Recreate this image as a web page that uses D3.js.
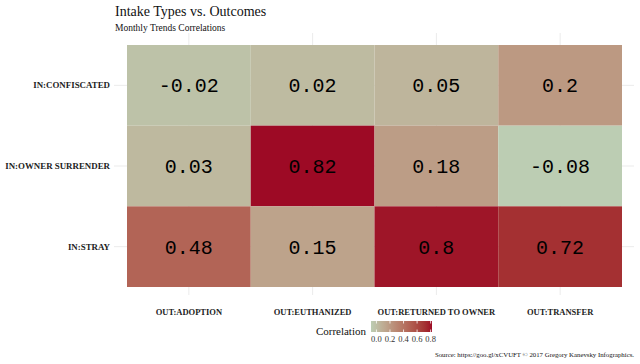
<!DOCTYPE html>
<html><head><meta charset="utf-8">
<script src="https://cdn.jsdelivr.net/npm/d3@7"></script>
<style>body{margin:0;background:#fff}svg{display:block}</style>
</head><body>
<svg id="c" width="640" height="364"></svg>
<script>
const outcomes = ["OUT:ADOPTION","OUT:EUTHANIZED","OUT:RETURNED TO OWNER","OUT:TRANSFER"];
const intakes = ["IN:CONFISCATED","IN:OWNER SURRENDER","IN:STRAY"];
const confiscated = [-0.02, 0.02, 0.05, 0.2];
const ownerSurrender = [0.03, 0.82, 0.18, -0.08];
const stray = [0.48, 0.15, 0.8, 0.72];
const legendTicks = [0, 0.2, 0.4, 0.6, 0.8];
const colorStops = ["#bccdb3", "#bebba1", "#9d0a25"];
const colorDomain = [-0.08, 0.02, 0.82];

const rows = [confiscated, ownerSurrender, stray];
const cells = [];
rows.forEach((r, i) => r.forEach((v, j) => cells.push({row: intakes[i], col: outcomes[j], v})));

const svg = d3.select("#c");
const x = d3.scaleBand().domain(outcomes).range([127, 622]);
const y = d3.scaleBand().domain(intakes).range([45, 287]);
const color = d3.scaleLinear().domain(colorDomain).range(colorStops).interpolate(d3.interpolateLab);

// grid lines
const grid = svg.append("g").attr("stroke", "#ebebeb").attr("stroke-width", 1);
outcomes.forEach(o => grid.append("line")
  .attr("x1", x(o) + x.bandwidth()/2).attr("x2", x(o) + x.bandwidth()/2)
  .attr("y1", 33).attr("y2", 295));
intakes.forEach(r => grid.append("line")
  .attr("y1", y(r) + y.bandwidth()/2).attr("y2", y(r) + y.bandwidth()/2)
  .attr("x1", 114).attr("x2", 634));

// tiles
svg.append("g").selectAll("rect").data(cells).join("rect")
  .attr("x", d => x(d.col)).attr("y", d => y(d.row))
  .attr("width", x.bandwidth()).attr("height", y.bandwidth())
  .attr("fill", d => color(d.v));

svg.append("g").selectAll("text").data(cells).join("text")
  .attr("x", d => x(d.col) + x.bandwidth()/2)
  .attr("y", d => y(d.row) + y.bandwidth()/2 + 7)
  .attr("text-anchor", "middle")
  .attr("font-family", "'Liberation Mono', 'Courier New', monospace")
  .attr("font-size", 20).attr("fill", "#000")
  .text(d => String(d.v));

// axes labels
const xAxis = svg.append("g").attr("transform", "translate(0,288)")
  .call(d3.axisBottom(x).tickSize(0).tickPadding(21));
xAxis.select(".domain").remove();
xAxis.selectAll("text").attr("font-family", "'Liberation Serif', 'Times New Roman', serif")
  .attr("font-weight", "bold").attr("font-size", 8.5).attr("fill", "#222");

const yAxis = svg.append("g").attr("transform", "translate(127,0)")
  .call(d3.axisLeft(y).tickSize(0).tickPadding(17));
yAxis.select(".domain").remove();
yAxis.selectAll("text").attr("font-family", "'Liberation Serif', 'Times New Roman', serif")
  .attr("font-weight", "bold").attr("font-size", 8.9).attr("fill", "#222");

// title
svg.append("text").attr("x", 115).attr("y", 16)
  .attr("font-family", "'Liberation Serif', 'Times New Roman', serif").attr("font-size", 14)
  .attr("fill", "#111").text("Intake Types vs. Outcomes");
svg.append("text").attr("x", 115).attr("y", 31)
  .attr("font-family", "'Liberation Serif', 'Times New Roman', serif").attr("font-size", 9.5)
  .attr("fill", "#111").text("Monthly Trends Correlations");

// legend
const lx = d3.scaleLinear().domain([colorDomain[0], colorDomain[2]]).range([371, 432]);
const defs = svg.append("defs");
const grad = defs.append("linearGradient").attr("id", "lg");
d3.range(0, 1.0001, 0.05).forEach(t => {
  const v = colorDomain[0] + t * (colorDomain[2] - colorDomain[0]);
  grad.append("stop").attr("offset", t).attr("stop-color", color(v));
});
svg.append("rect").attr("x", lx.range()[0]).attr("y", 321)
  .attr("width", lx.range()[1] - lx.range()[0]).attr("height", 11).attr("fill", "url(#lg)");
const lt = svg.append("g");
legendTicks.forEach(t => {
  lt.append("line").attr("x1", lx(t)).attr("x2", lx(t)).attr("y1", 321).attr("y2", 323.5)
    .attr("stroke", "#fff").attr("stroke-width", 0.8);
  lt.append("line").attr("x1", lx(t)).attr("x2", lx(t)).attr("y1", 329.5).attr("y2", 332)
    .attr("stroke", "#fff").attr("stroke-width", 0.8);
  lt.append("text").attr("x", lx(t)).attr("y", 342).attr("text-anchor", "middle")
    .attr("font-family", "'Liberation Serif', 'Times New Roman', serif").attr("font-size", 8.5)
    .attr("fill", "#333").text(d3.format(".1f")(t));
});
svg.append("text").attr("x", 366).attr("y", 335).attr("text-anchor", "end")
  .attr("font-family", "'Liberation Serif', 'Times New Roman', serif").attr("font-size", 11)
  .attr("fill", "#111").text("Correlation");

svg.append("text").attr("x", 634).attr("y", 357).attr("text-anchor", "end")
  .attr("font-family", "'Liberation Serif', 'Times New Roman', serif").attr("font-size", 6.8)
  .attr("fill", "#111").text("Source: https://goo.gl/xCVUFT \u00a9 2017 Gregory Kanevsky Infographics.");
</script>
</body></html>
